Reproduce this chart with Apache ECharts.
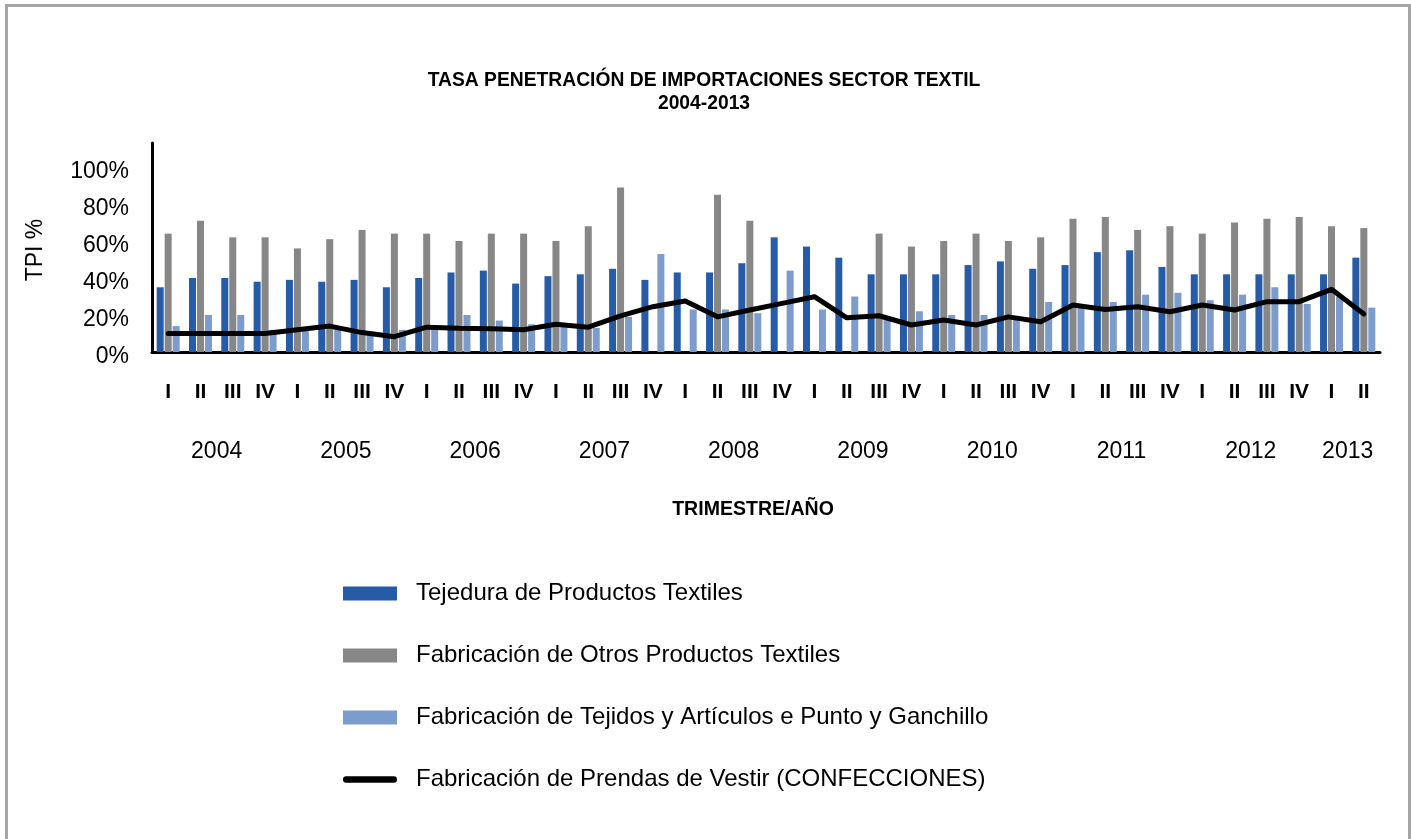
<!DOCTYPE html>
<html>
<head>
<meta charset="utf-8">
<script src="https://cdn.jsdelivr.net/npm/echarts@6/dist/echarts.min.js"></script>
<style>
  html, body { margin: 0; padding: 0; background: #fff; }
  #chart { width: 1411px; height: 839px; }
  #frame {
    position: absolute; left: 5px; top: 4px; width: 1400px; height: 850px;
    border: 3px solid #a5a5a5; border-bottom: none; pointer-events: none;
  }
</style>
</head>
<body>
<div id="chart"></div>
<div id="frame"></div>
<script>
var quarters = [
  'I', 'II', 'III', 'IV', 'I', 'II', 'III', 'IV', 'I', 'II', 'III', 'IV',
  'I', 'II', 'III', 'IV', 'I', 'II', 'III', 'IV', 'I', 'II', 'III', 'IV',
  'I', 'II', 'III', 'IV', 'I', 'II', 'III', 'IV', 'I', 'II', 'III', 'IV',
  'I', 'II'
]
var years = ['2004', '2005', '2006', '2007', '2008', '2009', '2010', '2011', '2012', '2013']
// position of each year label on the quarter scale (middle of its quarters)
var yearPos = [2, 6, 10, 14, 18, 22, 26, 30, 34, 37]

var tejedura = [
  35, 40, 40, 38, 39, 38, 39, 35, 40, 43, 44, 37,
  41, 42, 45, 39, 43, 43, 48, 62, 57, 51, 42, 42,
  42, 47, 49, 45, 47, 54, 55, 46, 42, 42, 42, 42,
  42, 51
]
var otrosProductos = [
  64, 71, 62, 62, 56, 61, 66, 64, 64, 60, 64, 64,
  60, 68, 89, null, null, 85, 71, null, null, null, 64, 57,
  60, 64, 60, 62, 72, 73, 66, 68, 64, 70, 72, 73,
  68, 67
]
var puntoGanchillo = [
  14, 20, 20, 12, 12, 13, 9, 12, 13, 20, 17, 15,
  14, 13, 19, 53, 23, 23, 21, 44, 23, 30, 18, 22,
  20, 20, 18, 27, 24, 27, 31, 32, 28, 31, 35, 26,
  30, 24
]
var confecciones = [
  10, 10, 10, 10, 12, 14, 10.5, 8.3, 13.4, 12.8, 12.6, 12,
  15, 13.4, 19.5, 24.5, 27.6, 19, 22.7, 26.3, 29.9, 18.5, 19.6, 14.6,
  17.3, 14.6, 19, 16.4, 25.4, 23, 24.5, 21.8, 25.4, 22.7, 27.2, 27.2,
  33.9, 20.5
]

var seriesNames = [
  'Tejedura de Productos Textiles',
  'Fabricación de Otros Productos Textiles',
  'Fabricación de Tejidos y Artículos e Punto y Ganchillo',
  'Fabricación de Prendas de Vestir (CONFECCIONES)'
]

var font = "'Liberation Sans', Arial, sans-serif"

var chart = echarts.init(document.getElementById('chart'))

function barSeries(name, data, color) {
  return {
    name: name,
    type: 'bar',
    data: data,
    barWidth: 7,
    barGap: '14%',
    itemStyle: { color: color },
    emphasis: { disabled: true }
  }
}

function label(text, x, y, size, bold, sx, rot) {
  return {
    type: 'text',
    x: x,
    y: y,
    scaleX: sx || 1,
    rotation: rot || 0,
    style: {
      text: text,
      fontFamily: font,
      fontWeight: bold ? 'bold' : 'normal',
      fontSize: size,
      fill: '#000',
      textAlign: 'center',
      textVerticalAlign: 'middle'
    }
  }
}

var option = {
  animation: false,
  legend: {
    orient: 'vertical',
    left: 338,
    top: 576,
    itemWidth: 54,
    itemHeight: 14,
    itemGap: 37,
    data: [
      { name: seriesNames[0], icon: 'rect' },
      { name: seriesNames[1], icon: 'rect' },
      { name: seriesNames[2], icon: 'rect' },
      { name: seriesNames[3], icon: 'path://M3,0 L47,0 A3,3 0 0 1 47,6 L3,6 A3,3 0 0 1 3,0 Z' }
    ],
    textStyle: {
      fontFamily: font,
      fontSize: 24,
      lineHeight: 25,
      color: '#000',
      padding: [0, 0, 0, 14]
    }
  },
  grid: {
    left: 152,
    right: 31,
    top: 143,
    bottom: 487,
    containLabel: false
  },
  xAxis: [
    {
      type: 'category',
      data: quarters,
      axisLine: { lineStyle: { color: '#000', width: 3 } },
      axisTick: { show: false },
      axisLabel: {
        interval: 0,
        margin: 30,
        fontFamily: font,
        fontWeight: 'bold',
        fontSize: 21,
        color: '#000'
      }
    },
    {
      type: 'value',
      position: 'bottom',
      min: 0,
      max: quarters.length,
      interval: 1,
      axisLine: { show: false },
      axisTick: { show: false },
      splitLine: { show: false },
      axisLabel: {
        margin: 88,
        fontFamily: font,
        fontSize: 23,
        color: '#000',
        formatter: function(v) {
          var i = yearPos.indexOf(v)
          return i >= 0 ? years[i] : ''
        }
      }
    }
  ],
  yAxis: {
    type: 'value',
    min: 0,
    max: 113,
    interval: 20,
    axisLine: { show: true, lineStyle: { color: '#000', width: 3 } },
    axisTick: { show: false },
    splitLine: { show: false },
    axisLabel: {
      margin: 23,
      verticalAlign: 'top',
      lineHeight: 10,
      fontFamily: font,
      fontSize: 23,
      color: '#000',
      formatter: function(v) {
        return v > 100 ? '' : v + '%'
      }
    }
  },
  graphic: [
    label('TASA PENETRACIÓN DE IMPORTACIONES SECTOR TEXTIL', 704, 80, 21, true, 0.918),
    label('2004-2013', 704, 103, 21, true, 0.918),
    label('TRIMESTRE/AÑO', 753, 509, 21, true, 0.93),
    label('TPI %', 36, 250, 23, false, 1, Math.PI / 2)
  ],
  series: [
    barSeries(seriesNames[0], tejedura, '#265BA8'),
    barSeries(seriesNames[1], otrosProductos, '#878787'),
    barSeries(seriesNames[2], puntoGanchillo, '#7B9CCD'),
    {
      name: seriesNames[3],
      type: 'line',
      data: confecciones,
      symbol: 'none',
      z: 5,
      itemStyle: { color: '#000' },
      lineStyle: { color: '#000', width: 5, cap: 'round', join: 'round' },
      emphasis: { disabled: true }
    }
  ]
}

chart.setOption(option)
</script>
</body>
</html>
